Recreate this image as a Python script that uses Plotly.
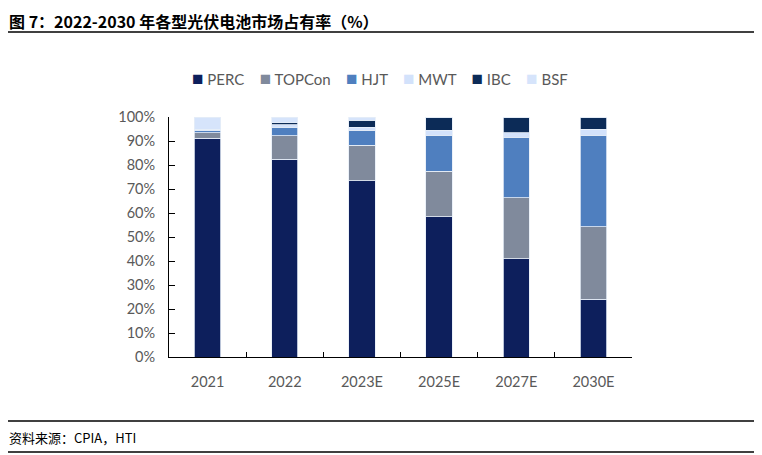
import plotly.graph_objects as go

categories = ["2021", "2022", "2023E", "2025E", "2027E", "2030E"]
perc = [91.2, 82.5, 73.5, 58.5, 41.0, 24.0]
topcon = [2.3, 9.7, 14.8, 19.0, 25.3, 30.3]
hjt = [1.0, 3.5, 6.2, 15.0, 25.2, 38.2]
mwt = [0.3, 1.0, 1.3, 2.0, 2.0, 2.4]
ibc = [0.0, 1.0, 2.8, 5.5, 6.5, 5.1]
bsf = [5.2, 2.3, 1.4, 0.0, 0.0, 0.0]
y_ticks = [0, 10, 20, 30, 40, 50, 60, 70, 80, 90, 100]
y_tick_labels = [f"{v}%" for v in y_ticks]

series_names = ["PERC", "TOPCon", "HJT", "MWT", "IBC", "BSF"]
series_values = [perc, topcon, hjt, mwt, ibc, bsf]
series_colors = ["#0d1f5c", "#808a9c", "#4f7fbf", "#d3e2fb", "#0c2b57", "#d6e4fb"]

fig = go.Figure()
for name, vals, color in zip(series_names, series_values, series_colors):
    fig.add_trace(go.Bar(
        x=categories, y=vals, name=name,
        marker=dict(color=color, line=dict(color="#e6edf8", width=0.8)),
        width=0.34,
    ))

# page has an 8px body margin; work in figure pixel coordinates
W, H = 754, 447
L, R, T, B = 161, 130, 109, 98
pw = W - L - R
ph = H - T - B

def px_x(p):
    return (p - L) / pw

def px_y(p):
    return (H - B - p) / ph

fig.update_layout(
    width=W, height=H,
    margin=dict(l=L, r=R, t=T, b=B),
    barmode="stack",
    plot_bgcolor="white", paper_bgcolor="white",
    font=dict(family="Lato, Noto Sans CJK SC", size=13, color="#595959"),
    showlegend=False,
    xaxis=dict(
        type="category", showline=True, linecolor="black", linewidth=1,
        ticks="inside", tickson="boundaries", ticklen=5, tickcolor="black",
        tickfont=dict(size=14.5, color="#595959"), ticklabelstandoff=12,
        showgrid=False,
    ),
    yaxis=dict(
        range=[0, 100], tickvals=y_ticks, ticktext=y_tick_labels,
        showline=True, linecolor="black", linewidth=1,
        ticks="inside", ticklen=6, tickcolor="black",
        tickfont=dict(size=14.5, color="#595959"), ticklabelstandoff=10,
        showgrid=False, zeroline=False,
    ),
)

# Legend row (compact, like the original)
legend_parts = [
    f"<span style='color:{c};font-size:19px'>■</span>\u00a0{n}"
    for n, c in zip(series_names, series_colors)
]
fig.add_annotation(
    text=("\u00a0" * 4).join(legend_parts),
    xref="paper", yref="paper", x=px_x(372), y=px_y(70),
    xanchor="center", yanchor="middle", showarrow=False,
    font=dict(family="Lato", size=15, color="#595959"),
)

# Title, rules, and source note
fig.add_annotation(
    text="<b>图 7：2022-2030 年各型光伏电池市场占有率（%）</b>",
    xref="paper", yref="paper", x=px_x(0), y=px_y(0), xanchor="left", yanchor="top",
    borderpad=0, showarrow=False,
    font=dict(family="Noto Sans CJK SC", size=16, color="black"),
)
fig.add_annotation(
    text="资料来源：CPIA，HTI",
    xref="paper", yref="paper", x=px_x(-1), y=px_y(429), xanchor="left", yanchor="middle",
    showarrow=False, font=dict(family="Noto Sans CJK SC", size=13, color="black"),
)
for yy in (24, 413, 444):
    fig.add_shape(type="line", xref="paper", yref="paper",
                  x0=px_x(0), x1=px_x(748), y0=px_y(yy), y1=px_y(yy),
                  line=dict(color="black", width=1.5))

fig.write_html("out.html")
